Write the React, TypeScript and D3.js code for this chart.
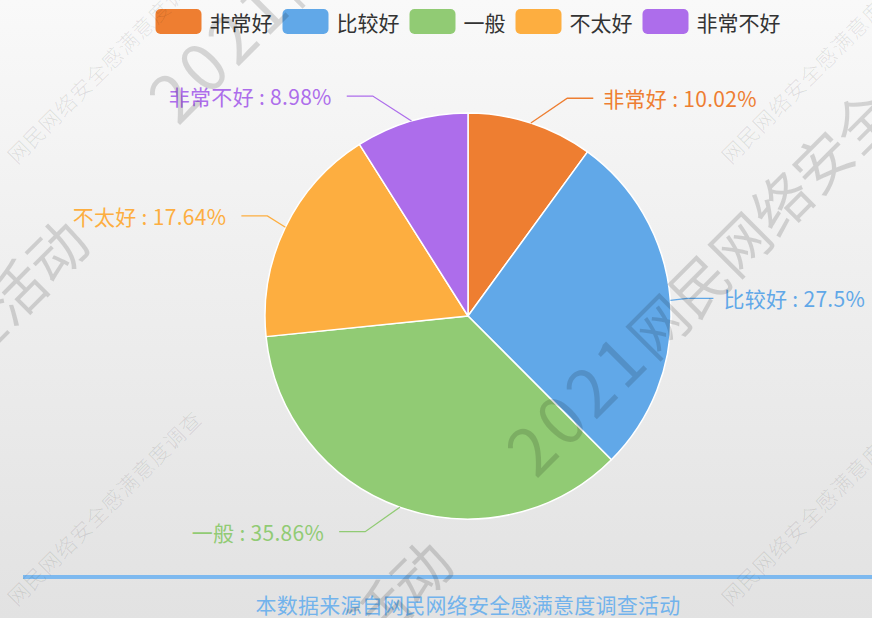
import React from 'react';
import * as d3 from 'd3';

const categories = ['非常好', '比较好', '一般', '不太好', '非常不好'];
const values = [10.02, 27.5, 35.86, 17.64, 8.98];
const colors = ['#ee7e31', '#61a8e8', '#91cb74', '#fdae40', '#ad6deb'];
const footerText = '本数据来源自网民网络安全感满意度调查活动';
const bigMark = '2021网民网络安全感满意度调查活动';
const smallMark = '网民网络安全感满意度调查';

const W = 872;
const H = 618;
const CX = 468;
const CY = 316;
const R = 203;
const FONT = '"Noto Sans CJK SC", "Microsoft YaHei", sans-serif';

export default function App() {
  const pie = d3.pie<number>().sort(null).value((d) => d);
  const arcs = pie(values);
  const arcGen = d3.arc<d3.PieArcDatum<number>>().innerRadius(0).outerRadius(R);

  // label layout (ellipse alignment like echarts)
  const L1 = 26, rA = R + 17, rB = R + 41, L2 = 26;
  const labels = arcs.map((a, i) => {
    const mid = (a.startAngle + a.endAngle) / 2;
    const ex = CX + R * Math.sin(mid);
    const ey = CY - R * Math.cos(mid);
    const ly = CY - (R + L1) * Math.cos(mid);
    const dy = ly - CY;
    const dir = Math.sin(mid) >= 0 ? 1 : -1;
    const elbowX = CX + dir * rA * Math.sqrt(Math.max(0, 1 - (dy * dy) / (rB * rB)));
    const endX = elbowX + dir * L2;
    const tx = endX + dir * (dir > 0 ? 10 : 15);
    return { i, ex, ey, ly, elbowX, endX, tx, dir };
  });

  // legend layout
  const legFont = 21, swW = 46, swH = 25, txtGap = 8, itemGap = 10;
  const itemWidths = categories.map((c) => swW + txtGap + c.length * legFont);
  const legTotal = d3.sum(itemWidths) + itemGap * (categories.length - 1);
  let lx = CX - legTotal / 2;
  const legendItems = categories.map((c, i) => {
    const x = lx;
    lx += itemWidths[i] + itemGap;
    return { c, i, x };
  });

  const bigPos = [
    { x: 178, y: 127, anchor: 'start' },
    { x: 536, y: 480, anchor: 'start' },
    { x: 93, y: 246, anchor: 'end' },
    { x: 457, y: 567, anchor: 'end' },
  ];
  const smallXs = [17, 731];
  const smallYs = [165, 607];

  return (
    <svg
      width={W}
      height={H}
      style={{ position: 'absolute', left: 0, top: 0 }}
      fontFamily={FONT}
    >
      <defs>
        <linearGradient id="bg" x1="0" y1="0" x2="0" y2="1">
          <stop offset="0" stopColor="#f9f9f9" />
          <stop offset="1" stopColor="#e2e2e2" />
        </linearGradient>
      </defs>
      <rect x={0} y={0} width={W} height={H} fill="url(#bg)" />

      <g transform={`translate(${CX},${CY})`}>
        {arcs.map((a, i) => (
          <path key={i} d={arcGen(a) || ''} fill={colors[i]} stroke="#fff" strokeWidth={1.5} strokeLinejoin="round" />
        ))}
      </g>

      {labels.map((l) => (
        <g key={l.i}>
          <polyline
            points={`${l.ex},${l.ey} ${l.elbowX},${l.ly} ${l.endX},${l.ly}`}
            fill="none"
            stroke={colors[l.i]}
            strokeWidth={1.3}
          />
          <text
            x={l.tx}
            y={l.ly}
            fill={colors[l.i]}
            fontSize={21}
            textAnchor={l.dir > 0 ? 'start' : 'end'}
            dominantBaseline="central"
            letterSpacing={0.3}
          >
            {`${categories[l.i]} : ${values[l.i]}%`}
          </text>
        </g>
      ))}

      {legendItems.map((it) => (
        <g key={it.i}>
          <rect x={it.x} y={9} width={swW} height={swH} rx={5} fill={colors[it.i]} />
          <text x={it.x + swW + txtGap} y={22} fontSize={legFont} fill="#333" dominantBaseline="central">
            {it.c}
          </text>
        </g>
      ))}

      <line x1={23} x2={W} y1={577} y2={577} stroke="#7db9ef" strokeWidth={4} />
      <text x={CX} y={604} fontSize={21} fill="#72b3ec" textAnchor="middle" dominantBaseline="central" letterSpacing={0.25}>
        {footerText}
      </text>

      {smallYs.map((y) =>
        smallXs.map((x) => (
          <text
            key={`${x}-${y}`}
            transform={`translate(${x},${y}) rotate(-45)`}
            fontSize={21}
            fontWeight={300}
            fill="rgba(0,0,0,0.1)"
            letterSpacing={1}
          >
            {smallMark}
          </text>
        ))
      )}
      {bigPos.map((p, i) => (
        <text
          key={i}
          transform={`translate(${p.x},${p.y}) rotate(-45)`}
          fontSize={58}
          fill="rgba(0,0,0,0.14)"
          textAnchor={p.anchor}
        >
          <tspan fontSize={66} letterSpacing={5}>{bigMark.slice(0, 4)}</tspan>
          <tspan>{bigMark.slice(4)}</tspan>
        </text>
      ))}
    </svg>
  );
}
